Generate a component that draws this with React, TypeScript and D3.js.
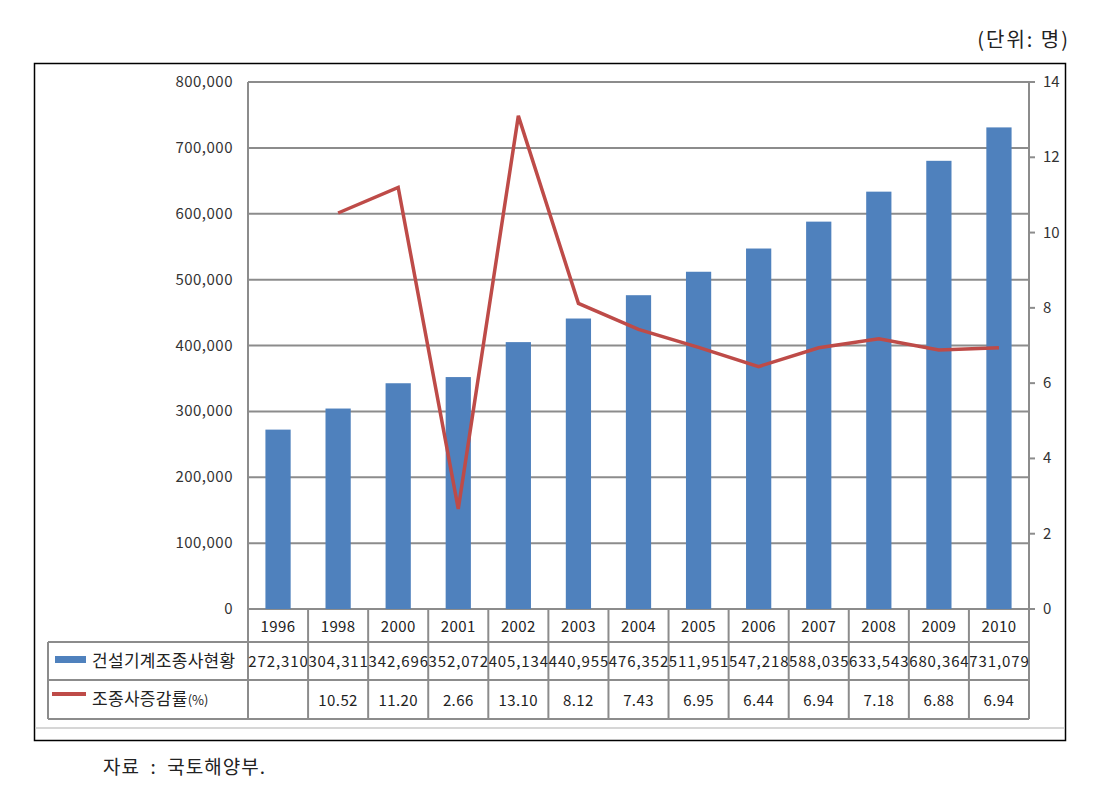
import React from "react";
import * as d3 from "d3";

const years = ["1996","1998","2000","2001","2002","2003","2004","2005","2006","2007","2008","2009","2010"];
const operators = [272310,304311,342696,352072,405134,440955,476352,511951,547218,588035,633543,680364,731079];
const growth: (number|null)[] = [null,10.52,11.20,2.66,13.10,8.12,7.43,6.95,6.44,6.94,7.18,6.88,6.94];
const leftTicks = [0,100000,200000,300000,400000,500000,600000,700000,800000];
const rightTicks = [0,2,4,6,8,10,12,14];
const seriesNames = ["건설기계조종사현황","조종사증감률"];

const BLUE = "#4F81BD";
const RED = "#BE4B48";
const GRID = "#8c8c8c";
const FONT = "'Noto Sans CJK KR', 'Noto Sans', sans-serif";

export default function App() {
  const W = 1095, H = 795;
  const left = 248, right = 1029, top = 82, bottom = 609;
  const x = d3.scaleBand<string>().domain(years).range([left, right]).paddingInner(0).paddingOuter(0);
  const yL = d3.scaleLinear().domain([0, 800000]).range([bottom, top]);
  const yR = d3.scaleLinear().domain([0, 14]).range([bottom, top]);
  const fmt = d3.format(",");
  const barW = x.bandwidth() * 0.42;
  const row1 = [bottom, 642];
  const row2 = [642, 680];
  const row3 = [680, 719];
  const tableLeft = 48;

  const lineGen = d3.line<{ y: string; v: number | null }>()
    .defined(d => d.v !== null)
    .x(d => (x(d.y) as number) + x.bandwidth() / 2)
    .y(d => yR(d.v as number));
  const linePath = lineGen(years.map((y, i) => ({ y, v: growth[i] }))) || "";

  return (
    <svg width={W} height={H} style={{ position: "absolute", left: 0, top: 0 }} fontFamily={FONT}>
      <rect x={0} y={0} width={W} height={H} fill="#fff" />
      <text x={1070} y={47} textAnchor="end" fontSize={20} letterSpacing={2} fill="#222">(단위:  명)</text>
      <rect x={34.5} y={63.5} width={1031} height={677} fill="none" stroke="#000" strokeWidth={1.5} />
      <line x1={35} x2={1065} y1={728} y2={728} stroke="#c8c8c8" strokeWidth={1.5} />

      {leftTicks.map(t => (
        <line key={"g" + t} x1={left} x2={right} y1={yL(t)} y2={yL(t)} stroke={GRID} strokeWidth={2} />
      ))}
      {leftTicks.map(t => (
        <text key={"l" + t} x={233} y={yL(t) + 5} textAnchor="end" fontSize={15} letterSpacing={0.5} fill="#333">{fmt(t)}</text>
      ))}
      {rightTicks.map(t => (
        <g key={"r" + t}>
          <line x1={right} x2={right + 6} y1={yR(t)} y2={yR(t)} stroke={GRID} strokeWidth={2} />
          <text x={1043} y={yR(t) + 5} fontSize={15} fill="#333">{t}</text>
        </g>
      ))}
      <line x1={left} x2={left} y1={top} y2={bottom} stroke={GRID} strokeWidth={2} />
      <line x1={right} x2={right} y1={top} y2={bottom} stroke={GRID} strokeWidth={2} />

      {years.map((y, i) => (
        <rect key={"b" + y}
          x={(x(y) as number) + x.bandwidth() / 2 - barW / 2}
          y={yL(operators[i])}
          width={barW}
          height={bottom - yL(operators[i])}
          fill={BLUE} />
      ))}
      <path d={linePath} fill="none" stroke={RED} strokeWidth={3.5} strokeLinejoin="miter" />

      <g stroke={GRID} strokeWidth={2} fill="none">
        <line x1={left} x2={right} y1={row1[1]} y2={row1[1]} />
        <line x1={tableLeft} x2={right} y1={row2[0]} y2={row2[0]} />
        <line x1={tableLeft} x2={right} y1={row2[1]} y2={row2[1]} />
        <line x1={tableLeft} x2={right} y1={row3[1]} y2={row3[1]} />
        <line x1={tableLeft} x2={tableLeft} y1={row2[0]} y2={row3[1]} />
        {years.map(y => (
          <line key={"v" + y} x1={x(y) as number} x2={x(y) as number} y1={row1[0]} y2={row3[1]} />
        ))}
        <line x1={right} x2={right} y1={row1[0]} y2={row3[1]} />
      </g>
      {years.map((y, i) => {
        const cx = (x(y) as number) + x.bandwidth() / 2;
        return (
          <g key={"t" + y} fontSize={15} fill="#222" textAnchor="middle">
            <text x={cx} y={(row1[0] + row1[1]) / 2 + 6} letterSpacing={0.4}>{y}</text>
            <text x={cx + 0.5} y={(row2[0] + row2[1]) / 2 + 6} letterSpacing={0.9}>{fmt(operators[i])}</text>
            {growth[i] !== null && (
              <text x={cx} y={(row3[0] + row3[1]) / 2 + 6} letterSpacing={0.4}>{(growth[i] as number).toFixed(2)}</text>
            )}
          </g>
        );
      })}
      <rect x={55} y={656} width={31} height={7} fill={BLUE} />
      <text x={92} y={667} fontSize={17} letterSpacing={0.3} fill="#222">{seriesNames[0]}</text>
      <line x1={52} x2={86} y1={694} y2={694} stroke={RED} strokeWidth={4} />
      <text x={92} y={705} fontSize={17} letterSpacing={0.3} fill="#222">
        {seriesNames[1]}<tspan fontSize={13} letterSpacing={0}>(%)</tspan>
      </text>

      <text x={103} y={774} fontSize={19} letterSpacing={1} fill="#222" style={{ whiteSpace: "pre" }}>{"자료  :  국토해양부."}</text>
    </svg>
  );
}
